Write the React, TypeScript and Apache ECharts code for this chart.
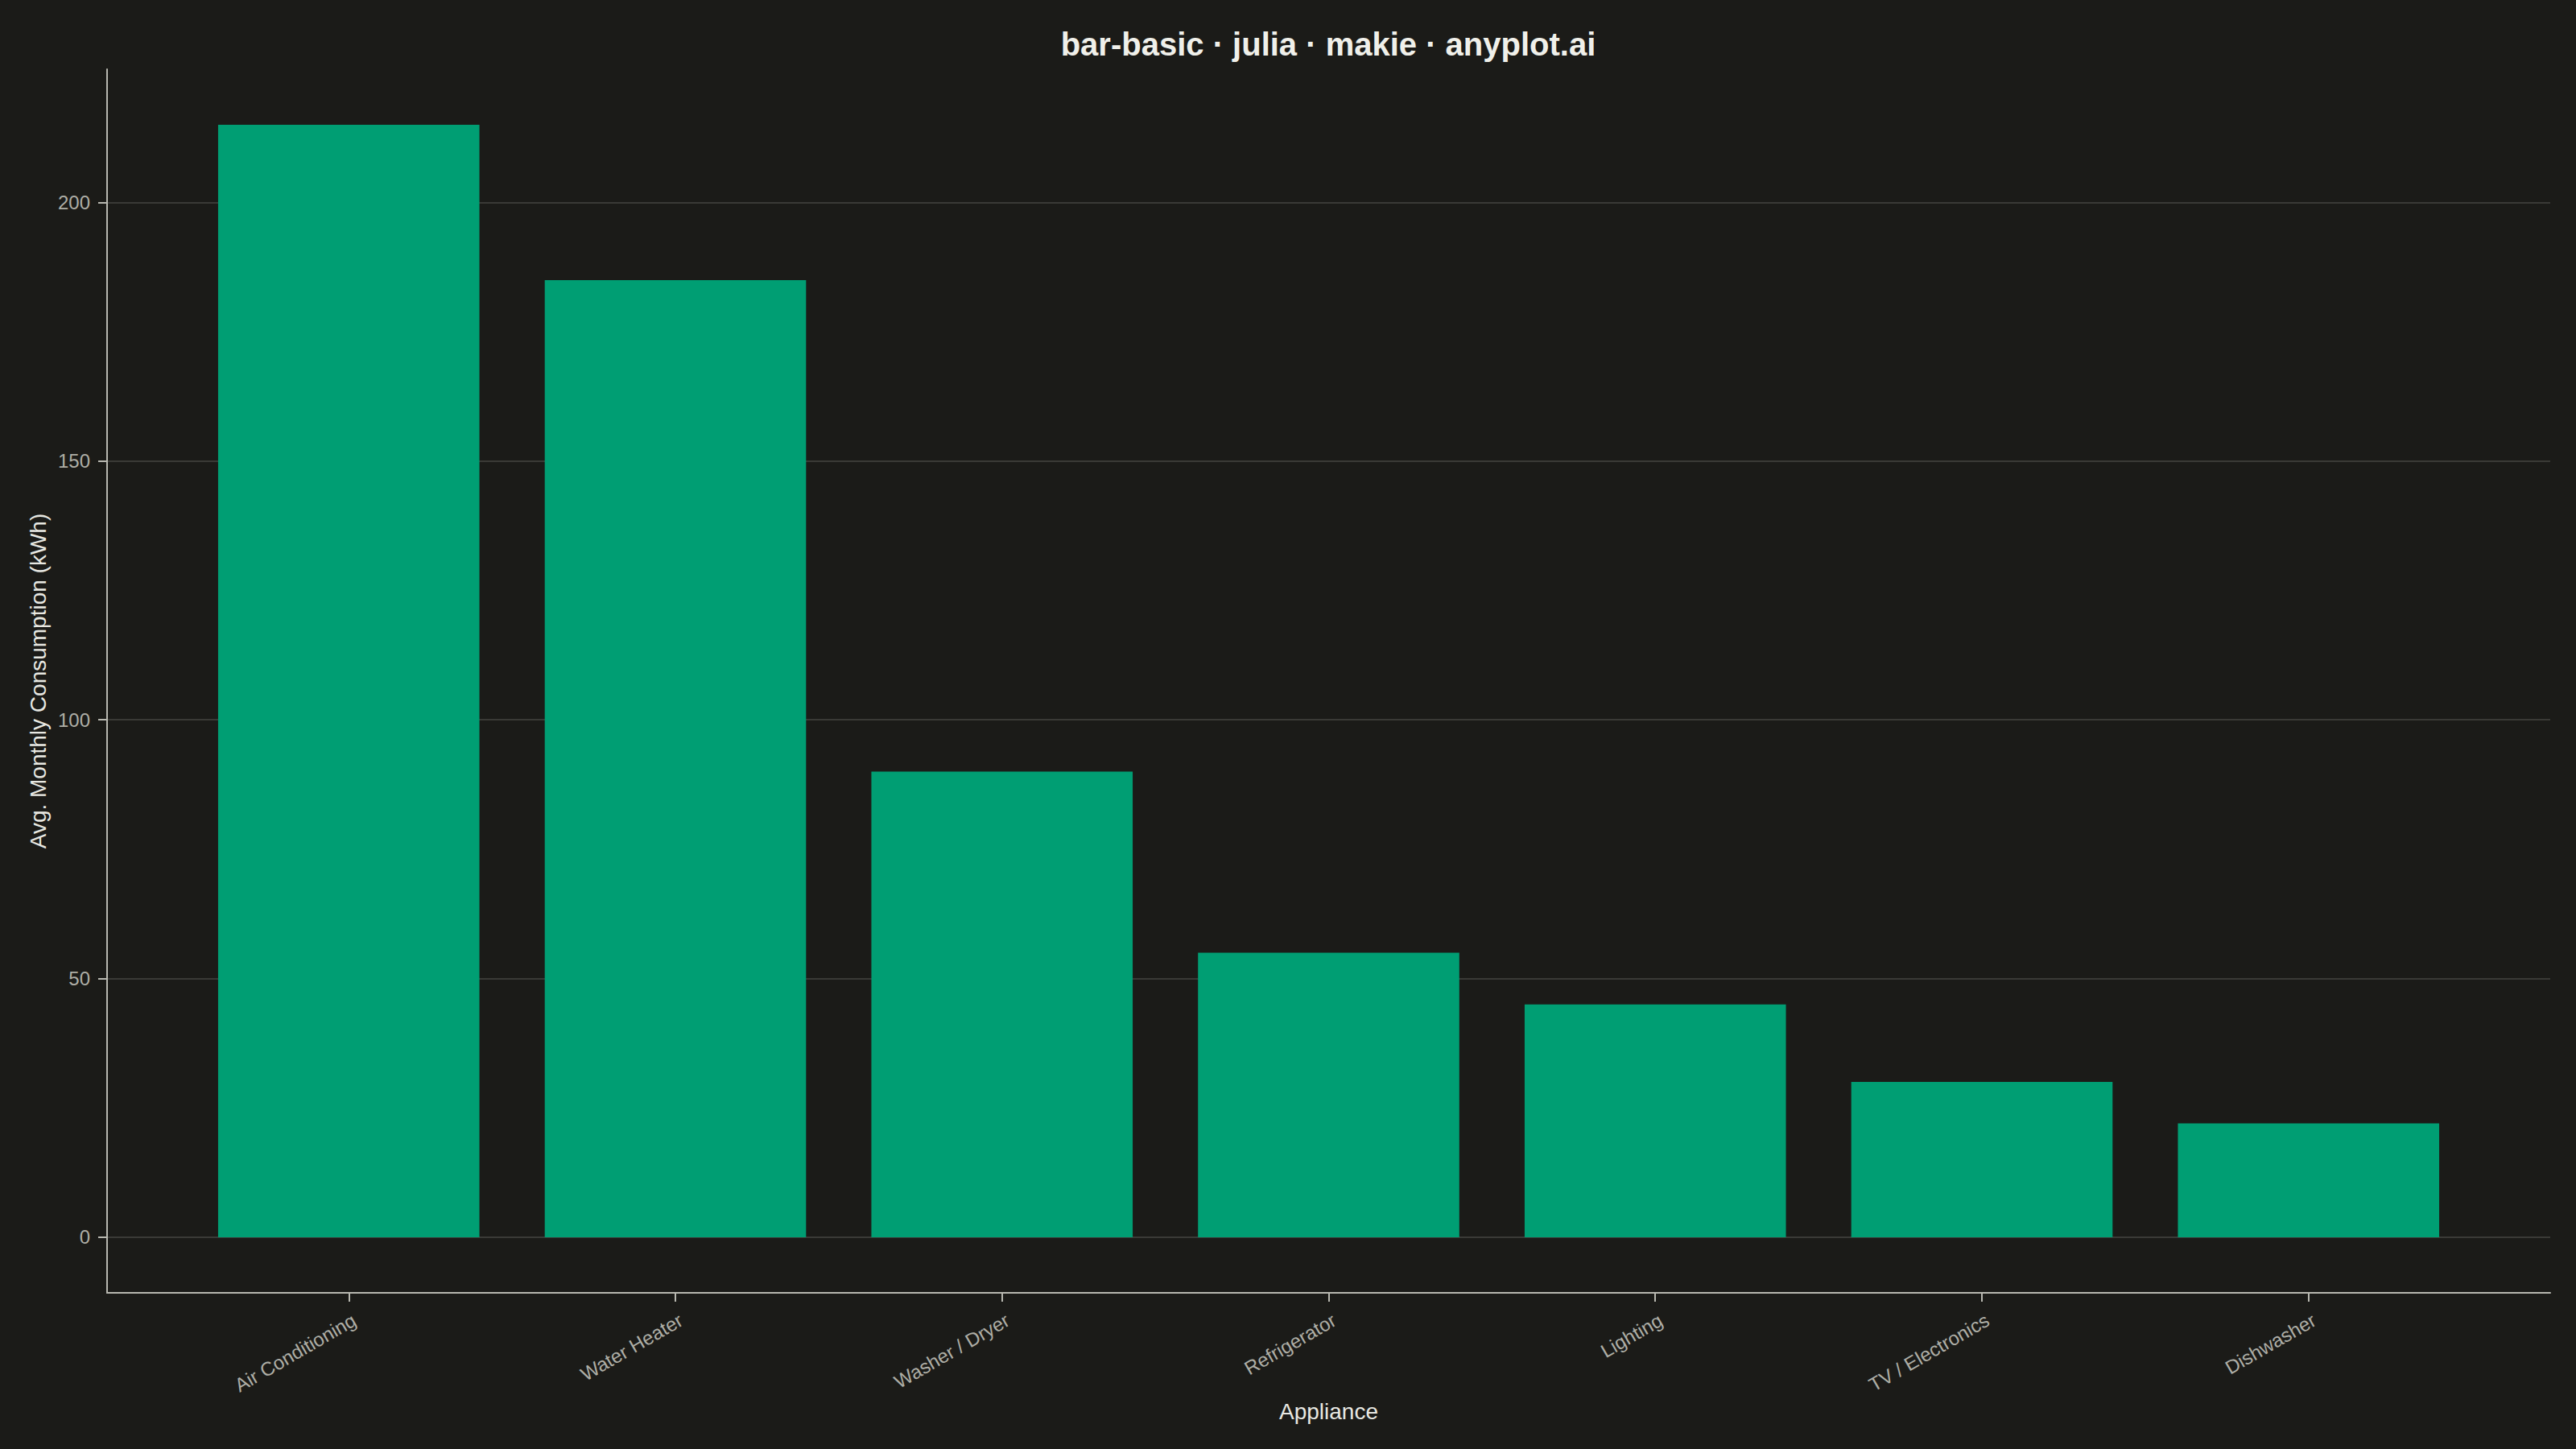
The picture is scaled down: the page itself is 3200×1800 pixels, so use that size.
import React, { useEffect, useRef } from "react";
import * as echarts from "echarts";

const categories = [
  "Air Conditioning",
  "Water Heater",
  "Washer / Dryer",
  "Refrigerator",
  "Lighting",
  "TV / Electronics",
  "Dishwasher",
];
const values = [215, 185, 90, 55, 45, 30, 22];
const yTicks = [0, 50, 100, 150, 200];
const xTicks = [1, 2, 3, 4, 5, 6, 7];

const titleText = "bar-basic · julia · makie · anyplot.ai";
const xTitle = "Appliance";
const yTitle = "Avg. Monthly Consumption (kWh)";

const BG = "#1b1b18";
const FONT = "'Liberation Sans', Arial, Helvetica, sans-serif";

export default function App() {
  const ref = useRef<HTMLDivElement>(null);
  useEffect(() => {
    document.body.style.margin = "0";
    document.body.style.background = BG;
    if (!ref.current) return;
    const chart = echarts.init(ref.current, undefined, { renderer: "svg" });
    const yMax = Math.max(...values);
    const yPad = yMax * 0.05;
    const xLo = 1 - 0.4;
    const xHi = categories.length + 0.4;
    const xPad = (xHi - xLo) * 0.05;
    chart.setOption({
      animation: false,
      backgroundColor: BG,
      textStyle: { fontFamily: FONT },
      grid: { left: 133, right: 32, top: 86, bottom: 194, containLabel: false },
      graphic: [
        {
          type: "text",
          x: 1650,
          y: 55,
          style: {
            text: titleText,
            fill: "#f0f0ea",
            font: `bold 40px ${FONT}`,
            textAlign: "center",
            textVerticalAlign: "middle",
          },
        },
      ],
      xAxis: {
        type: "value",
        min: xLo - xPad,
        max: xHi + xPad,
        name: xTitle,
        nameLocation: "middle",
        nameGap: 132,
        nameTextStyle: { color: "#e8e8e2", fontSize: 28, fontFamily: FONT },
        axisLine: { onZero: false, lineStyle: { color: "#b8b8b0", width: 2 } },
        axisTick: {
          show: true,
          customValues: xTicks,
          length: 11,
          lineStyle: { color: "#b8b8b0", width: 2 },
        },
        axisLabel: {
          customValues: xTicks,
          rotate: 30,
          margin: 36,
          padding: [0, -8, 0, 0],
          color: "#aeaea6",
          fontSize: 24,
          fontFamily: FONT,
          formatter: (v: number) => categories[Math.round(v) - 1] ?? "",
        },
        splitLine: { show: false },
      },
      yAxis: {
        type: "value",
        min: -yPad,
        max: yMax + yPad,
        name: yTitle,
        nameLocation: "middle",
        nameGap: 68,
        nameTextStyle: { color: "#e8e8e2", fontSize: 28, fontFamily: FONT },
        axisLine: { show: true, onZero: false, lineStyle: { color: "#b8b8b0", width: 2 } },
        axisTick: {
          show: true,
          customValues: yTicks,
          length: 11,
          lineStyle: { color: "#b8b8b0", width: 2 },
        },
        axisLabel: {
          customValues: yTicks,
          margin: 21,
          color: "#aeaea6",
          fontSize: 24,
          fontFamily: FONT,
        },
        splitLine: { show: true, lineStyle: { color: "#3a3a36", width: 2 } },
      },
      series: [
        {
          type: "bar",
          data: categories.map((_, i) => [xTicks[i], values[i]]),
          barWidth: "80%",
          itemStyle: { color: "#009e73" },
        },
      ],
    });
    return () => chart.dispose();
  }, []);
  return <div ref={ref} style={{ width: 3200, height: 1800, background: BG }} />;
}
